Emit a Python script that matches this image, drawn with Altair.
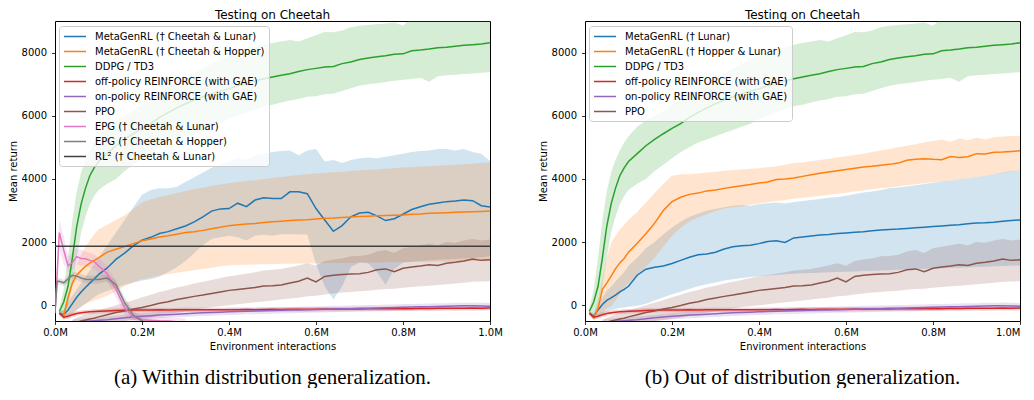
import altair as alt
import pandas as pd

N = None

# x grid in millions of environment interactions
X = [0.0, 0.005, 0.01, 0.02, 0.03, 0.04, 0.05, 0.06, 0.07, 0.08, 0.09, 0.10,
     0.12, 0.14, 0.16, 0.18, 0.20, 0.22, 0.24, 0.26, 0.28, 0.30, 0.32, 0.34, 0.36, 0.38, 0.40,
     0.42, 0.44, 0.46, 0.48, 0.50, 0.52, 0.54, 0.56, 0.58, 0.60, 0.62, 0.64, 0.66, 0.68, 0.70,
     0.72, 0.74, 0.76, 0.78, 0.80, 0.82, 0.84, 0.86, 0.88, 0.90, 0.92, 0.94, 0.96, 0.98, 1.00]

# ---------------- panel (a) ----------------
A_BLUE_MEAN = [N, N, -250, -300, -150, 50, 250, 420, 560, 700, 830, 970,
               1180, 1450, 1650, 1880, 2060, 2150, 2270, 2330, 2420, 2510, 2640, 2800, 2980, 3050, 3060,
               3230, 3120, 3330, 3400, 3380, 3380, 3590, 3590, 3530, 3060, 2700, 2340, 2520, 2800, 2920,
               2940, 2830, 2680, 2740, 2880, 3030, 3120, 3200, 3240, 3280, 3300, 3330, 3310, 3150, 3110]
A_BLUE_LO = [N, N, -300, -400, -350, -250, -150, -50, 50, 150, 250, 350,
             450, 550, 650, 720, 780, 820, 900, 1050, 1200, 1400, 1650, 1900, 2100, 2150, 2200,
             2150, 2050, 2200, 2230, 2200, 2250, 2250, 2240, 2240, 1300, 600, 180, 600, 1200, 1350,
             1330, 1050, 650, 1150, 1350, 1380, 1400, 1420, 1440, 1450, 1460, 1480, 1500, 1520, 1550]
A_BLUE_HI = [N, N, -200, -150, 100, 300, 500, 700, 900, 1100, 1300, 1500,
             1900, 2300, 2700, 3100, 3500, 3650, 3700, 3700, 3750, 3900, 4050, 4200, 4350, 4450, 4550,
             4650, 4600, 4750, 4800, 4850, 4880, 4900, 4750, 4900, 4950, 4550, 4600, 4500, 4600, 4650,
             4680, 4650, 4700, 4750, 4800, 4850, 4880, 4900, 4950, 4950, 4900, 4950, 4850, 4800, 4570]

A_ORANGE_MEAN = [N, N, -250, -350, 250, 700, 950, 1100, 1230, 1330, 1420, 1500,
                 1680, 1770, 1860, 1950, 2040, 2100, 2160, 2200, 2250, 2300, 2330, 2370, 2420, 2470, 2520,
                 2550, 2570, 2590, 2620, 2640, 2660, 2680, 2700, 2710, 2730, 2750, 2760, 2780, 2790, 2810,
                 2820, 2830, 2840, 2850, 2860, 2880, 2890, 2910, 2920, 2930, 2940, 2950, 2960, 2970, 2980]
A_ORANGE_LO = [N, N, -300, -450, -400, -300, -150, -50, 50, 100, 150, 200,
               300, 450, 600, 720, 820, 880, 940, 990, 1030, 1070, 1110, 1150, 1190, 1230, 1260,
               1270, 1280, 1290, 1300, 1300, 1310, 1310, 1320, 1320, 1330, 1330, 1340, 1340, 1340, 1350,
               1350, 1350, 1360, 1360, 1360, 1370, 1370, 1370, 1380, 1380, 1380, 1390, 1390, 1400, 1400]
A_ORANGE_HI = [N, N, -200, -150, 300, 900, 1300, 1600, 1850, 2050, 2250, 2400,
               2550, 2700, 2850, 3050, 3250, 3350, 3420, 3480, 3550, 3620, 3680, 3720, 3780, 3820, 3860,
               3900, 3930, 3960, 4000, 4030, 4060, 4090, 4120, 4150, 4170, 4190, 4210, 4230, 4250, 4270,
               4290, 4300, 4320, 4340, 4360, 4370, 4390, 4400, 4420, 4430, 4450, 4460, 4480, 4500, 4520]

# EPG curves stop once they fall below the plotted range
EPG_L_MEAN = [-250, 1000, 2300, 1750, 1250, 1350, 1540, 1480, 1470, 1420, 1380, 1250,
              1000, 500, -80, -380, -460, -480, -495, -500, -520, -540]
EPG_L_LO = [-350, 700, 1800, 1300, 1050, 1050, 1300, 1250, 1250, 1200, 1150, 1000,
            750, 250, -300, -550, -600, -620, -640, -650, -660, -680]
EPG_L_HI = [-150, 1400, 2700, 2200, 1550, 1650, 1800, 1750, 1700, 1650, 1620, 1500,
            1250, 750, 150, -200, -300, -340, -360, -380, -400, -420]

EPG_H_MEAN = [-250, 750, 760, 710, 830, 950, 920, 860, 820, 815, 815, 815,
              860, 650, 80, -320, -500, -560]
EPG_H_LO = [-300, 650, 660, 610, 720, 850, 800, 740, 700, 690, 690, 690,
            740, 500, -100, -450, -600, -660]
EPG_H_HI = [-200, 850, 860, 810, 940, 1050, 1040, 980, 940, 940, 940, 940,
            980, 800, 250, -190, -400, -460]

RL2_X = [0.0, 1.0]
RL2_Y = [1870, 1870]

# ---------------- baselines (same in both panels) ----------------
DDPG_MEAN = [N, N, -200, 100, 600, 1500, 2500, 3200, 3700, 4100, 4350, 4550,
             4800, 5050, 5250, 5430, 5600, 5750, 5950, 6100, 6250, 6380, 6500, 6600, 6700, 6780, 6850,
             6950, 7030, 7100, 7170, 7230, 7280, 7330, 7400, 7460, 7500, 7540, 7560, 7650, 7700, 7780,
             7830, 7870, 7900, 7950, 7960, 8060, 8080, 8110, 8150, 8170, 8200, 8230, 8250, 8270, 8310]
DDPG_LO = [N, N, -300, -300, 0, 600, 1500, 2300, 2800, 3200, 3450, 3650,
           3850, 4000, 4250, 4450, 4650, 4850, 5000, 5150, 5250, 5350, 5450, 5550, 5650, 5750, 5900,
           6000, 6100, 6200, 6300, 6350, 6420, 6480, 6530, 6600, 6620, 6680, 6700, 6780, 6870, 6950,
           7000, 7030, 7070, 7110, 7140, 7160, 7200, 7080, 7250, 7280, 7300, 7320, 7340, 7360, 7380]
DDPG_HI = [N, N, -100, 500, 1500, 2700, 3600, 4200, 4600, 4900, 5150, 5350,
           5650, 5850, 6000, 6150, 6350, 6550, 6750, 6900, 7050, 7200, 7350, 7500, 7650, 7780, 7900,
           8000, 8100, 8180, 8250, 8300, 8350, 8400, 8350, 8450, 8550, 8650, 8640, 8700, 8800, 8850,
           8870, 8900, 8920, 8950, 8850, 9100, 9200, 9250, 9300, 9300, 9300, 9300, 9300, 9300, 9300]

OFF_MEAN = [N, N, -250, -380, -350, -300, -260, -240, -220, -210, -200, -190,
            -180, -170, -160, -150, -150, -150, -145, -150, -145, -140, -145, -140, -140, -145, -140,
            -140, -135, -140, -135, -130, -135, -130, -125, -130, -125, -120, -125, -120, -115, -120,
            -115, -110, -115, -110, -105, -110, -100, -105, -100, -95, -100, -95, -90, -95, -90]
OFF_LO = [N, N, -300, -450, -430, -380, -340, -310, -290, -280, -270, -260,
          -250, -240, -230, -225, -225, -225, -220, -225, -220, -215, -220, -215, -215, -220, -215,
          -215, -210, -215, -210, -205, -210, -205, -200, -205, -200, -195, -200, -195, -190, -195,
          -190, -185, -190, -185, -180, -185, -175, -180, -175, -170, -175, -170, -165, -170, -165]
OFF_HI = [N, N, -200, -310, -270, -220, -180, -170, -150, -140, -130, -120,
          -110, -100, -95, -85, -85, -85, -80, -85, -80, -75, -80, -75, -75, -80, -75,
          -75, -70, -75, -70, -65, -70, -65, -60, -65, -60, -55, -60, -55, -50, -55,
          -50, -45, -50, -45, -40, -45, -35, -40, -35, -30, -35, -30, -25, -30, -25]

ON_MEAN = [N, N, N, N, N, -560, -540, -520, -510, -500, -490, -480,
           -460, -430, -400, -370, -350, -330, -310, -300, -285, -270, -255, -240, -230, -220, -210,
           -200, -190, -185, -175, -170, -160, -155, -150, -140, -135, -130, -120, -115, -110, -100,
           -95, -90, -80, -75, -65, -60, -50, -45, -40, -35, -25, -20, -15, -25, -30]
ON_LO = [N, N, N, N, N, -660, -640, -620, -610, -600, -590, -580,
         -560, -530, -500, -470, -450, -430, -410, -400, -385, -370, -355, -340, -330, -320, -310,
         -300, -290, -285, -275, -270, -260, -255, -250, -240, -235, -230, -220, -215, -210, -200,
         -195, -190, -180, -175, -165, -160, -150, -145, -140, -135, -125, -120, -115, -125, -130]
ON_HI = [N, N, N, N, N, -460, -440, -420, -410, -400, -390, -380,
         -360, -330, -300, -270, -250, -230, -210, -200, -185, -170, -155, -140, -130, -120, -110,
         -100, -90, -85, -75, -70, -60, -55, -50, -40, -35, -30, -20, -15, -10, 0,
         5, 10, 20, 25, 35, 40, 50, 55, 60, 65, 75, 80, 85, 75, 70]

PPO_MEAN = [N, N, N, N, N, -580, -540, -500, -470, -440, -410, -370,
            -300, -230, -180, -120, -70, -10, 60, 110, 180, 230, 280, 320, 370, 420, 470,
            500, 530, 560, 610, 620, 640, 700, 760, 860, 740, 910, 950, 970, 990, 1000,
            1040, 1120, 1150, 1060, 1170, 1210, 1240, 1280, 1260, 1330, 1360, 1400, 1460, 1420, 1440]
PPO_LO = [N, N, N, N, N, -700, -680, -660, -640, -620, -600, -580,
          -560, -530, -500, -470, -430, -390, -340, -290, -240, -190, -140, -100, -60, -30, 0,
          30, 60, 90, 120, 150, 180, 210, 240, 280, 300, 340, 370, 400, 420, 440,
          460, 490, 510, 520, 550, 580, 600, 620, 640, 660, 690, 710, 740, 750, 760]
PPO_HI = [N, N, N, N, N, -460, -400, -340, -290, -250, -210, -170,
          -90, 0, 80, 160, 250, 330, 420, 480, 560, 620, 690, 740, 800, 860, 920,
          960, 1000, 1040, 1100, 1120, 1150, 1200, 1260, 1330, 1250, 1400, 1450, 1480, 1550, 1560,
          1600, 1700, 1750, 1650, 1800, 1850, 1900, 1950, 1900, 2000, 1980, 2050, 2100, 2050, 2080]

# ---------------- panel (b) ----------------
B_BLUE_MEAN = [N, N, -250, -350, -150, 20, 150, 230, 320, 420, 500, 600,
               950, 1140, 1200, 1240, 1320, 1420, 1520, 1600, 1620, 1680, 1780, 1850, 1880, 1900, 1950,
               2020, 2040, 1990, 2130, 2160, 2190, 2220, 2240, 2270, 2290, 2310, 2330, 2360, 2380, 2400,
               2410, 2430, 2450, 2470, 2490, 2510, 2530, 2550, 2580, 2600, 2610, 2630, 2660, 2680, 2700]
B_BLUE_LO = [N, N, -300, -420, -350, -280, -200, -150, -120, -90, -70, -50,
             -20, 50, 150, 250, 350, 430, 520, 600, 660, 720, 780, 820, 860, 890, 920,
             940, 960, 980, 1000, 1010, 1020, 1030, 1040, 1050, 1060, 1070, 1080, 1090, 1100, 1110,
             1120, 1130, 1140, 1150, 1160, 1170, 1180, 1190, 1200, 1210, 1220, 1230, 1240, 1250, 1260]
B_BLUE_HI = [N, N, -200, -250, 0, 250, 450, 600, 750, 900, 1050, 1250,
             1500, 1800, 2000, 2250, 2450, 2650, 2800, 2900, 3000, 3050, 3100, 3150, 3170, 3150, 3200,
             3230, 3250, 3220, 3270, 3300, 3330, 3360, 3400, 3430, 3470, 3520, 3570, 3600, 3650, 3700,
             3730, 3760, 3800, 3840, 3880, 3920, 3950, 3990, 4020, 4060, 4100, 4150, 4200, 4240, 4280]

B_ORANGE_MEAN = [N, N, -250, -400, -100, 500, 700, 920, 1150, 1340, 1480, 1680,
                 1960, 2260, 2600, 3000, 3280, 3420, 3510, 3550, 3620, 3650, 3700, 3740, 3780, 3820, 3870,
                 3900, 3980, 4000, 4030, 4080, 4130, 4180, 4220, 4260, 4300, 4340, 4380, 4400, 4430, 4460,
                 4500, 4590, 4620, 4640, 4620, 4610, 4710, 4680, 4700, 4800, 4790, 4840, 4850, 4870, 4890]
B_ORANGE_LO = [N, N, -300, -480, -350, -250, -100, -30, 150, 350, 550, 700,
               950, 1200, 1500, 1850, 2200, 2450, 2650, 2780, 2880, 2980, 3060, 3100, 3130, 3180, 3220,
               3260, 3300, 3330, 3370, 3400, 3430, 3460, 3500, 3530, 3560, 3600, 3640, 3670, 3700, 3730,
               3760, 3800, 3830, 3860, 3890, 3920, 3950, 3990, 4020, 4060, 4100, 4150, 4190, 4230, 4280]
B_ORANGE_HI = [N, N, -200, -300, 200, 800, 1500, 1980, 2200, 2400, 2550, 2700,
               2950, 3250, 3550, 3850, 4100, 4150, 4150, 4170, 4200, 4230, 4260, 4280, 4300, 4320, 4340,
               4370, 4400, 4450, 4500, 4520, 4560, 4600, 4640, 4680, 4720, 4760, 4800, 4850, 4900, 4950,
               5000, 5050, 5100, 5160, 5200, 5250, 5180, 5280, 5220, 5300, 5250, 5320, 5340, 5360, 5370]

X_TICKS = [0.0, 0.2, 0.4, 0.6, 0.8, 1.0]
Y_TICKS = [0, 2000, 4000, 6000, 8000]

BLUE, ORANGE, GREEN, RED = "#1f77b4", "#ff7f0e", "#2ca02c", "#d62728"
PURPLE, BROWN, PINK, GRAY, DARK = "#9467bd", "#8c564b", "#e377c2", "#7f7f7f", "#404040"

SERIES_A = [
    ("MetaGenRL (\u2020 Cheetah & Lunar)", BLUE, X, A_BLUE_MEAN, A_BLUE_LO, A_BLUE_HI),
    ("MetaGenRL (\u2020 Cheetah & Hopper)", ORANGE, X, A_ORANGE_MEAN, A_ORANGE_LO, A_ORANGE_HI),
    ("DDPG / TD3", GREEN, X, DDPG_MEAN, DDPG_LO, DDPG_HI),
    ("off-policy REINFORCE (with GAE)", RED, X, OFF_MEAN, OFF_LO, OFF_HI),
    ("on-policy REINFORCE (with GAE)", PURPLE, X, ON_MEAN, ON_LO, ON_HI),
    ("PPO", BROWN, X, PPO_MEAN, PPO_LO, PPO_HI),
    ("EPG (\u2020 Cheetah & Lunar)", PINK, X, EPG_L_MEAN, EPG_L_LO, EPG_L_HI),
    ("EPG (\u2020 Cheetah & Hopper)", GRAY, X, EPG_H_MEAN, EPG_H_LO, EPG_H_HI),
    ("RL\u00b2 (\u2020 Cheetah & Lunar)", DARK, RL2_X, RL2_Y, None, None),
]
SERIES_B = [
    ("MetaGenRL (\u2020 Lunar)", BLUE, X, B_BLUE_MEAN, B_BLUE_LO, B_BLUE_HI),
    ("MetaGenRL (\u2020 Hopper & Lunar)", ORANGE, X, B_ORANGE_MEAN, B_ORANGE_LO, B_ORANGE_HI),
    ("DDPG / TD3", GREEN, X, DDPG_MEAN, DDPG_LO, DDPG_HI),
    ("off-policy REINFORCE (with GAE)", RED, X, OFF_MEAN, OFF_LO, OFF_HI),
    ("on-policy REINFORCE (with GAE)", PURPLE, X, ON_MEAN, ON_LO, ON_HI),
    ("PPO", BROWN, X, PPO_MEAN, PPO_LO, PPO_HI),
]

FONT = "DejaVu Sans"
PLOT_W, PLOT_H = 435, 300
YS = alt.Scale(domain=[-500, 9000], nice=False, zero=False)
XS = alt.Scale(domain=[0, 1], nice=False)
Y_AXIS = alt.Axis(values=Y_TICKS, format="d", title="Mean return", labelFlush=False,
                  labelPadding=5, titlePadding=3)


def x_axis(last_right):
    align = "center"
    if last_right:
        # keep the last tick label inside the page's right edge
        align = {"condition": {"test": "datum.value >= 1", "value": "right"}, "value": "center"}
    return alt.Axis(values=X_TICKS, labelExpr="format(datum.value, '.1f') + 'M'",
                    title="Environment interactions", labelFlush=False, labelPadding=3,
                    titlePadding=4, labelAlign=align)


def legend():
    # a short horizontal stroke drawn from the symbol's left edge, 22px long
    return alt.Legend(
        title=None, orient="none", legendX=4, legendY=5,
        symbolType="M-1,0H3", symbolSize=121, symbolStrokeWidth=1.5, symbolOpacity=1,
        labelFontSize=10, labelFont=FONT, labelColor="black", labelLimit=0,
        labelOffset=19, rowPadding=3, padding=4,
        fillColor="rgba(255,255,255,0.8)", strokeColor="#cccccc", cornerRadius=3,
    )


def panel(series, caption, last_right):
    names = [s[0] for s in series]
    colors = [s[1] for s in series]
    line_rows, band_rows = [], []
    for k, (name, color, xs, mean, lo, hi) in enumerate(series):
        for i, m in enumerate(mean):
            if m is not None:
                line_rows.append({"x": xs[i], "y": m, "s": name, "k": k})
            if lo is not None and lo[i] is not None:
                band_rows.append({"x": xs[i], "lo": lo[i], "hi": hi[i], "s": name, "k": k})
    cscale = alt.Scale(domain=names, range=colors)
    xax = x_axis(last_right)
    bands = alt.Chart(pd.DataFrame(band_rows)).mark_area(opacity=0.2, clip=True).encode(
        x=alt.X("x:Q", scale=XS, axis=xax),
        y=alt.Y("lo:Q", scale=YS, axis=Y_AXIS),
        y2="hi:Q",
        color=alt.Color("s:N", scale=cscale, legend=legend()),
        detail="k:O",
    )
    lines = alt.Chart(pd.DataFrame(line_rows)).mark_line(strokeWidth=1.5, clip=True).encode(
        x=alt.X("x:Q", scale=XS, axis=xax),
        y=alt.Y("y:Q", scale=YS, axis=Y_AXIS),
        color=alt.Color("s:N", scale=cscale, legend=legend()),
        order="k:O",
    )
    cap = alt.Chart(pd.DataFrame({"t": [caption]})).mark_text(
        font="Liberation Serif", fontSize=21, align="center", baseline="middle", color="black"
    ).encode(text="t:N", x=alt.value(PLOT_W / 2), y=alt.value(356.5))
    return alt.layer(bands, lines, cap).properties(
        width=PLOT_W, height=PLOT_H,
        title=alt.TitleParams("Testing on Cheetah", fontSize=12, font=FONT,
                              fontWeight="normal", color="black", anchor="middle", offset=-1),
    )


pa = panel(SERIES_A, "(a) Within distribution generalization.", False)
pb = panel(SERIES_B, "(b) Out of distribution generalization.", True)

chart = alt.hconcat(pa, pb, spacing=34).resolve_scale(color="independent").properties(
    padding={"left": -1, "top": 0, "right": 0, "bottom": 0}
).configure_view(stroke="black", strokeWidth=1).configure_axis(
    domain=False, grid=False, tickColor="black", tickSize=3.5, tickWidth=0.8,
    labelColor="black", titleColor="black", labelFont=FONT, titleFont=FONT,
    labelFontSize=10, titleFontSize=10, titleFontWeight="normal",
)

chart.save("out.html", embed_options={"renderer": "svg", "actions": False})
